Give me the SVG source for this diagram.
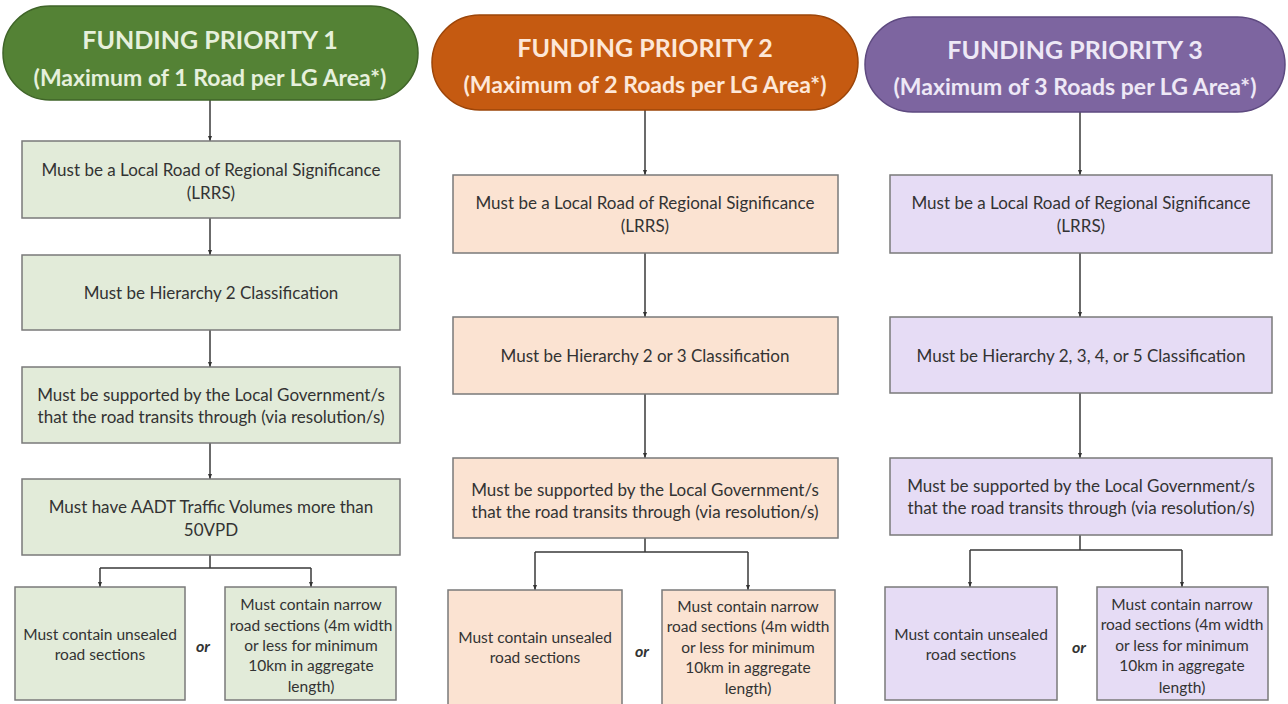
<svg xmlns="http://www.w3.org/2000/svg" width="1288" height="704" viewBox="0 0 1288 704">
  <defs>
    <marker id="arrow" viewBox="0 0 10 10" refX="10" refY="5" markerWidth="5" markerHeight="5" orient="auto" markerUnits="userSpaceOnUse">
      <path d="M0,1 L10,5 L0,9 z" fill="#333333"/>
    </marker>
    <style>
      .pill-g { fill: #548235; stroke: #3f6428; stroke-width: 1.5; }
      .pill-o { fill: #c55a11; stroke: #9c4509; stroke-width: 1.5; }
      .pill-p { fill: #7d65a0; stroke: #5e4a80; stroke-width: 1.5; }
      .box { stroke: #7a7a7a; stroke-width: 1.5; }
      .box-g { fill: #e2ebd9; }
      .box-o { fill: #fbe3d2; }
      .box-p { fill: #e6dcf5; }
      .head { font-family: Lato, "Liberation Sans", sans-serif; font-weight: 700; text-anchor: middle; }
      .head1 { font-size: 25px; }
      .head2 { font-size: 23px; }
      .t-g { fill: #e6f0dc; }
      .t-o { fill: #fde7d8; }
      .t-p { fill: #eee8f6; }
      .txt { font-family: Lato, "Liberation Sans", sans-serif; font-size: 17px; fill: #333333; text-anchor: middle; }
      .sm { font-size: 15.5px; }
      .or { font-family: Lato, "Liberation Sans", sans-serif; font-size: 16px; font-weight: 700; font-style: italic; fill: #333333; text-anchor: middle; }
      .conn { fill: none; stroke: #3a3a3a; stroke-width: 1.5; }
    </style>
  </defs>
  <rect width="1288" height="704" fill="#ffffff"/>

  <!-- connectors -->
  <g id="connectors">
    <!-- priority 1 -->
    <path class="conn" d="M210,100 V141" marker-end="url(#arrow)"/>
    <path class="conn" d="M210,218 V255" marker-end="url(#arrow)"/>
    <path class="conn" d="M210,330 V367" marker-end="url(#arrow)"/>
    <path class="conn" d="M210,443 V479" marker-end="url(#arrow)"/>
    <path class="conn" d="M210,555 V568 M100,568 H311"/>
    <path class="conn" d="M100,568 V587" marker-end="url(#arrow)"/>
    <path class="conn" d="M311,568 V587" marker-end="url(#arrow)"/>
    <!-- priority 2 -->
    <path class="conn" d="M645,110 V175" marker-end="url(#arrow)"/>
    <path class="conn" d="M645,253 V317" marker-end="url(#arrow)"/>
    <path class="conn" d="M645,394 V458" marker-end="url(#arrow)"/>
    <path class="conn" d="M645,538 V552 M535,552 H748"/>
    <path class="conn" d="M535,552 V590" marker-end="url(#arrow)"/>
    <path class="conn" d="M748,552 V590" marker-end="url(#arrow)"/>
    <!-- priority 3 -->
    <path class="conn" d="M1080,112 V175" marker-end="url(#arrow)"/>
    <path class="conn" d="M1080,253 V317" marker-end="url(#arrow)"/>
    <path class="conn" d="M1080,393 V458" marker-end="url(#arrow)"/>
    <path class="conn" d="M1080,535 V550 M970,550 H1182"/>
    <path class="conn" d="M970,550 V587" marker-end="url(#arrow)"/>
    <path class="conn" d="M1182,550 V587" marker-end="url(#arrow)"/>
  </g>

  <!-- Funding priority 1 -->
  <g id="p1-head">
    <rect class="pill-g" x="3" y="6" width="415" height="94" rx="47"/>
    <text class="head head1 t-g" x="210" y="49">FUNDING PRIORITY 1</text>
    <text class="head head2 t-g" x="210" y="86">(Maximum of 1 Road per LG Area*)</text>
  </g>
  <g id="p1-lrrs">
    <rect class="box box-g" x="22" y="141" width="378" height="77"/>
    <text class="txt" x="211" y="176">Must be a Local Road of Regional Significance</text>
    <text class="txt" x="211" y="199">(LRRS)</text>
  </g>
  <g id="p1-hierarchy">
    <rect class="box box-g" x="22" y="255" width="378" height="75"/>
    <text class="txt" x="211" y="299">Must be Hierarchy 2 Classification</text>
  </g>
  <g id="p1-support">
    <rect class="box box-g" x="22" y="367" width="378" height="76"/>
    <text class="txt" x="211" y="401">Must be supported by the Local Government/s</text>
    <text class="txt" x="211" y="423">that the road transits through (via resolution/s)</text>
  </g>
  <g id="p1-aadt">
    <rect class="box box-g" x="22" y="479" width="378" height="76"/>
    <text class="txt" x="211" y="513">Must have AADT Traffic Volumes more than</text>
    <text class="txt" x="211" y="536">50VPD</text>
  </g>
  <g id="p1-unsealed">
    <rect class="box box-g" x="15" y="587" width="170" height="113"/>
    <text class="txt sm" x="100" y="640">Must contain unsealed</text>
    <text class="txt sm" x="100" y="660">road sections</text>
  </g>
  <text class="or" x="203" y="652">or</text>
  <g id="p1-narrow">
    <rect class="box box-g" x="225" y="587" width="171" height="113"/>
    <text class="txt sm" x="311" y="610">Must contain narrow</text>
    <text class="txt sm" x="311" y="631">road sections (4m width</text>
    <text class="txt sm" x="311" y="651">or less for minimum</text>
    <text class="txt sm" x="311" y="671">10km in aggregate</text>
    <text class="txt sm" x="311" y="692">length)</text>
  </g>

  <!-- Funding priority 2 -->
  <g id="p2-head">
    <rect class="pill-o" x="432" y="15" width="426" height="95" rx="47.5"/>
    <text class="head head1 t-o" x="645" y="57">FUNDING PRIORITY 2</text>
    <text class="head head2 t-o" x="645" y="93">(Maximum of 2 Roads per LG Area*)</text>
  </g>
  <g id="p2-lrrs">
    <rect class="box box-o" x="453" y="175" width="385" height="78"/>
    <text class="txt" x="645" y="209">Must be a Local Road of Regional Significance</text>
    <text class="txt" x="645" y="232">(LRRS)</text>
  </g>
  <g id="p2-hierarchy">
    <rect class="box box-o" x="453" y="317" width="385" height="77"/>
    <text class="txt" x="645" y="362">Must be Hierarchy 2 or 3 Classification</text>
  </g>
  <g id="p2-support">
    <rect class="box box-o" x="453" y="458" width="385" height="80"/>
    <text class="txt" x="645" y="496">Must be supported by the Local Government/s</text>
    <text class="txt" x="645" y="518">that the road transits through (via resolution/s)</text>
  </g>
  <g id="p2-unsealed">
    <rect class="box box-o" x="448" y="590" width="174" height="118"/>
    <text class="txt sm" x="535" y="643">Must contain unsealed</text>
    <text class="txt sm" x="535" y="663">road sections</text>
  </g>
  <text class="or" x="642" y="657">or</text>
  <g id="p2-narrow">
    <rect class="box box-o" x="662" y="590" width="173" height="118"/>
    <text class="txt sm" x="748" y="612">Must contain narrow</text>
    <text class="txt sm" x="748" y="632">road sections (4m width</text>
    <text class="txt sm" x="748" y="653">or less for minimum</text>
    <text class="txt sm" x="748" y="673">10km in aggregate</text>
    <text class="txt sm" x="748" y="694">length)</text>
  </g>

  <!-- Funding priority 3 -->
  <g id="p3-head">
    <rect class="pill-p" x="865" y="17" width="420" height="95" rx="47.5"/>
    <text class="head head1 t-p" x="1075" y="59">FUNDING PRIORITY 3</text>
    <text class="head head2 t-p" x="1075" y="95">(Maximum of 3 Roads per LG Area*)</text>
  </g>
  <g id="p3-lrrs">
    <rect class="box box-p" x="890" y="175" width="382" height="78"/>
    <text class="txt" x="1081" y="209">Must be a Local Road of Regional Significance</text>
    <text class="txt" x="1081" y="232">(LRRS)</text>
  </g>
  <g id="p3-hierarchy">
    <rect class="box box-p" x="890" y="317" width="382" height="76"/>
    <text class="txt" x="1081" y="362">Must be Hierarchy 2, 3, 4, or 5 Classification</text>
  </g>
  <g id="p3-support">
    <rect class="box box-p" x="890" y="458" width="382" height="77"/>
    <text class="txt" x="1081" y="492">Must be supported by the Local Government/s</text>
    <text class="txt" x="1081" y="514">that the road transits through (via resolution/s)</text>
  </g>
  <g id="p3-unsealed">
    <rect class="box box-p" x="885" y="587" width="172" height="113"/>
    <text class="txt sm" x="971" y="640">Must contain unsealed</text>
    <text class="txt sm" x="971" y="660">road sections</text>
  </g>
  <text class="or" x="1079" y="653">or</text>
  <g id="p3-narrow">
    <rect class="box box-p" x="1097" y="587" width="171" height="113"/>
    <text class="txt sm" x="1182" y="610">Must contain narrow</text>
    <text class="txt sm" x="1182" y="630">road sections (4m width</text>
    <text class="txt sm" x="1182" y="651">or less for minimum</text>
    <text class="txt sm" x="1182" y="671">10km in aggregate</text>
    <text class="txt sm" x="1182" y="693">length)</text>
  </g>
</svg>
